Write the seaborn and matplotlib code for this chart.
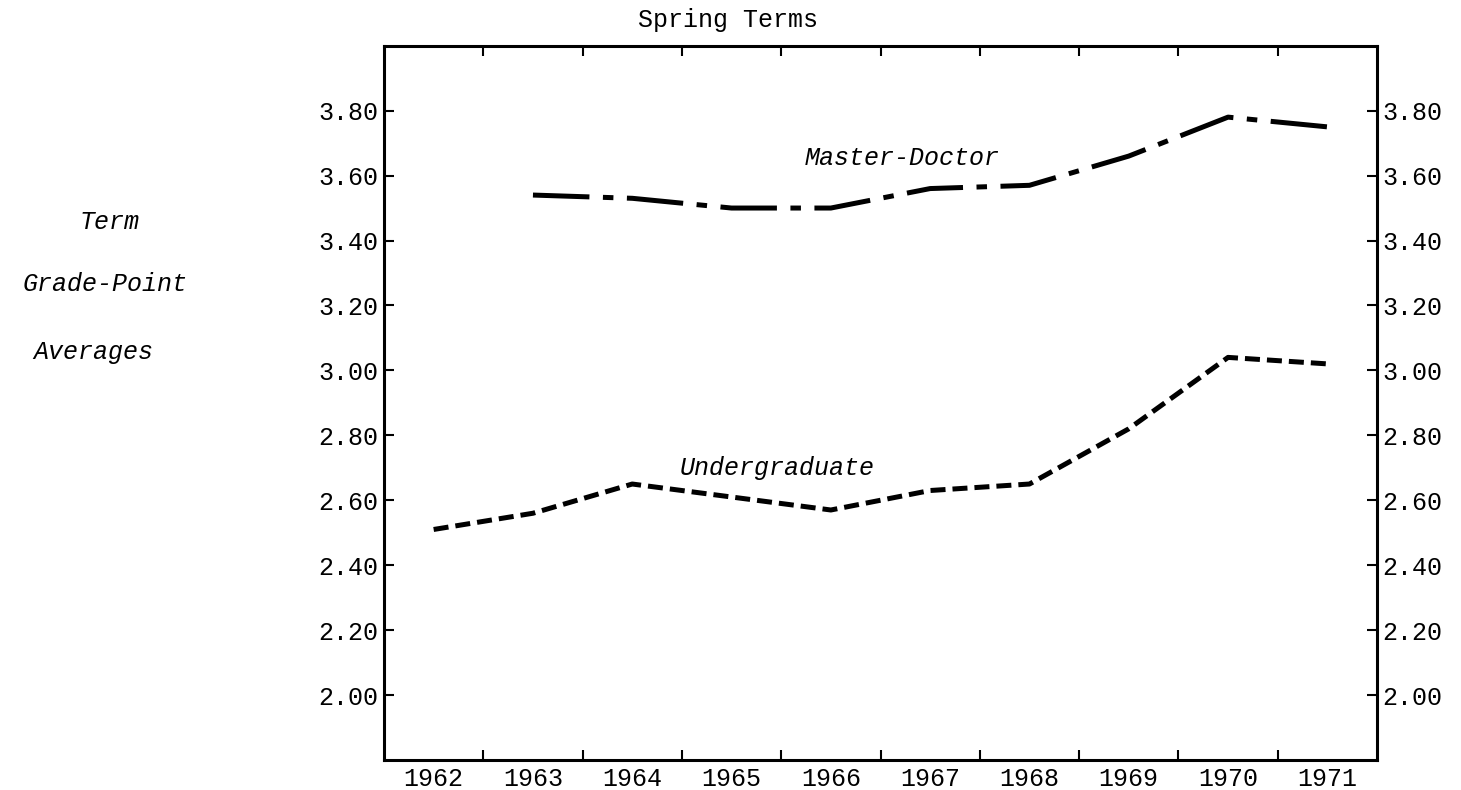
import pandas as pd
import seaborn as sns
import matplotlib.pyplot as plt

# Datos (promedios por semestre de primavera)
years = [1962, 1963, 1964, 1965, 1966, 1967, 1968, 1969, 1970, 1971]
undergrad = [2.51, 2.56, 2.65, 2.61, 2.57, 2.63, 2.65, 2.82, 3.04, 3.02]

md_years = [1963, 1964, 1965, 1966, 1967, 1968, 1969, 1970, 1971]
master_doctor = [3.54, 3.53, 3.50, 3.50, 3.56, 3.57, 3.66, 3.78, 3.75]

year_labels = ['1962', '1963', '1964', '1965', '1966', '1967', '1968', '1969', '1970', '1971']
gpa_ticks = [2.00, 2.20, 2.40, 2.60, 2.80, 3.00, 3.20, 3.40, 3.60, 3.80]
gpa_labels = ['2.00', '2.20', '2.40', '2.60', '2.80', '3.00', '3.20', '3.40', '3.60', '3.80']
boundaries = [1962.5, 1963.5, 1964.5, 1965.5, 1966.5, 1967.5, 1968.5, 1969.5, 1970.5]

df_ug = pd.DataFrame({'year': years, 'gpa': undergrad})
df_md = pd.DataFrame({'year': md_years, 'gpa': master_doctor})

sns.set_style('white')
plt.rcParams['font.family'] = ['Liberation Mono', 'DejaVu Sans Mono']
plt.rcParams['text.color'] = 'black'
plt.rcParams['xtick.color'] = 'black'
plt.rcParams['ytick.color'] = 'black'
plt.rcParams['xtick.labelcolor'] = 'black'
plt.rcParams['ytick.labelcolor'] = 'black'

W, H = 1461, 790
fig = plt.figure(figsize=(W / 100, H / 100), dpi=100)
ax = fig.add_axes([384 / W, 1 - 760 / H, (1377 - 384) / W, (760 - 45.7) / H])

sns.lineplot(data=df_ug, x='year', y='gpa', ax=ax, color='black',
             linewidth=3.6, linestyle=(0, (3.0, 1.4)))
sns.lineplot(data=df_md, x='year', y='gpa', ax=ax, color='black',
             linewidth=3.6, linestyle=(0, (11.3, 2.7, 2.1, 2.7)))

ax.set_xlim(1961.5, 1971.5)
ax.set_ylim(1.8, 4.0)
ax.set_xlabel('')
ax.set_ylabel('')

# ticks en los límites de cada año, etiquetas en el centro
ax.set_xticks(boundaries)
ax.set_xticklabels([])
ax.set_xticks(years, minor=True)
ax.set_xticklabels(year_labels, minor=True)
ax.tick_params(axis='x', which='major', direction='in', length=7, width=1.5,
               top=True, bottom=True, labelbottom=False, color='black')
ax.tick_params(axis='x', which='minor', length=0, labelsize=18, pad=5, labelcolor='black')

ax.set_yticks(gpa_ticks)
ax.set_yticklabels(gpa_labels)
ax.tick_params(axis='y', direction='in', length=7, width=1.5, left=True, right=True,
               labelleft=True, labelright=True, labelsize=18, pad=4,
               color='black', labelcolor='black')

for sp in ax.spines.values():
    sp.set_linewidth(2.2)
    sp.set_color('black')
    sp.set_visible(True)

# anotaciones de series
ax.text(1967.7, 3.632, 'Master-Doctor', ha='right', va='baseline',
        fontsize=18, style='italic', color='black')
ax.text(1964.48, 2.679, 'Undergraduate', ha='left', va='baseline',
        fontsize=18, style='italic', color='black')

# título y etiqueta del eje
fig.text(728 / W, 1 - 20 / H, 'Spring Terms', ha='center', va='center', fontsize=18, color='black')
fig.text(140 / W, 1 - 222 / H, 'Term', ha='right', va='center', fontsize=18, style='italic', color='black')
fig.text(188 / W, 1 - 284 / H, 'Grade-Point', ha='right', va='center', fontsize=18, style='italic', color='black')
fig.text(153 / W, 1 - 352 / H, 'Averages', ha='right', va='center', fontsize=18, style='italic', color='black')

fig.savefig('out.png', dpi=100, facecolor='white')
plt.close(fig)
